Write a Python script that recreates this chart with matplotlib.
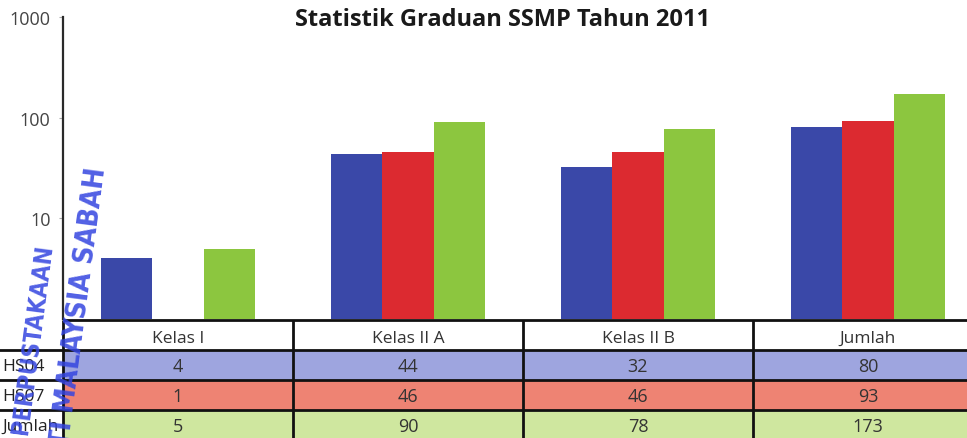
import matplotlib
matplotlib.use("Agg")
import matplotlib.pyplot as plt
from matplotlib.patches import Rectangle
import numpy as np

# ---- data ----
categories = ["Kelas I", "Kelas II A", "Kelas II B", "Jumlah"]
series_names = ["HS04", "HS07", "Jumlah"]
hs04 = [4, 44, 32, 80]
hs07 = [1, 46, 46, 93]
jumlah = [5, 90, 78, 173]
y_ticks = [10, 100, 1000]
y_tick_labels = ["10", "100", "1000"]
title = "Statistik Graduan SSMP Tahun 2011"

bar_colors = ["#3a48a8", "#dc2a30", "#8cc63f"]
row_colors = ["#9ea5df", "#ee8373", "#cfe79f"]
text_col = "#333333"
FONT = "Open Sans"

W, H = 967, 439
fig = plt.figure(figsize=(W / 100, H / 100), dpi=100)
fig.patch.set_facecolor("white")

def px(x0, y0, w, h):
    return [x0 / W, 1 - (y0 + h) / H, w / W, h / H]

# main bar axes
ax = fig.add_axes(px(63, 18, 920, 302))
ax.set_yscale("log")
ax.set_ylim(1, 1000)
ax.set_xlim(-0.5, len(categories) - 0.5)
x = np.arange(len(categories))
bw = 0.224
offs = [-bw, 0, bw]
for vals, c, o in zip([hs04, hs07, jumlah], bar_colors, offs):
    ax.bar(x + o, vals, width=bw, color=c, bottom=0, zorder=2)

for s in ["top", "right", "bottom"]:
    ax.spines[s].set_visible(False)
ax.spines["left"].set_color("#2a2a2a")
ax.spines["left"].set_linewidth(1.6)
ax.set_xticks([])
ax.set_yticks(y_ticks)
ax.set_yticklabels(y_tick_labels)
ax.yaxis.set_minor_locator(matplotlib.ticker.NullLocator())
ax.tick_params(axis="y", length=3, width=0.8, color="#aaaaaa", pad=6,
               labelsize=13, labelcolor="#444444")
for lab in ax.get_yticklabels():
    lab.set_fontfamily(FONT)
ax.patch.set_alpha(0)

# title
fig.text(503 / W, 1 - 20 / H, title, ha="center", va="center",
         fontsize=17, fontweight="bold", family=FONT, color="#1a1a1a")

# table axes
tax = fig.add_axes(px(63, 321, 920, 120))
tax.set_xlim(-0.5, len(categories) - 0.5)
tax.set_ylim(4, 0)
tax.axis("off")
rows = [hs04, hs07, jumlah]
lw = 2.0
for r, (vals, rc) in enumerate(zip(rows, row_colors), start=1):
    for i, v in enumerate(vals):
        tax.add_patch(Rectangle((i - 0.5, r), 1, 1, facecolor=rc,
                                edgecolor="none", zorder=1))
        tax.text(i, r + 0.55, str(v), ha="center", va="center", fontsize=13,
                 family=FONT, color=text_col, zorder=3)
    tax.text(-0.5 - 61 / 230, r + 0.52, series_names[r - 1], ha="left",
             va="center", fontsize=12.5, family=FONT, color="#222222",
             clip_on=False, zorder=3)
for i, cat in enumerate(categories):
    tax.text(i, 0.6, cat, ha="center", va="center", fontsize=12.5,
             family=FONT, color=text_col, zorder=3)
# grid lines
tax.plot([-0.5, len(categories) - 0.5], [0, 0], color="#111111", lw=lw,
         clip_on=False, zorder=4, solid_capstyle="butt")
for r in [1, 2, 3]:
    tax.plot([-0.5 - 70 / 230, len(categories) - 0.5], [r, r], color="#111111",
             lw=lw, clip_on=False, zorder=4, solid_capstyle="butt")
for i in range(len(categories)):
    tax.plot([i - 0.5, i - 0.5], [0, 4], color="#111111", lw=lw,
             clip_on=False, zorder=4, solid_capstyle="butt")

# library stamp
stamp_col = "#3344e0"
stamp_font = dict(fontweight="bold", fontstretch="condensed",
                  family=["DejaVu Sans"], color=stamp_col, alpha=0.85,
                  rotation=82.5, rotation_mode="anchor", ha="right",
                  va="center", zorder=10)
fig.text(97 / W, 1 - 168 / H, "UNIVERSITI MALAYSIA SABAH", fontsize=20,
         **stamp_font)
fig.text(45 / W, 1 - 244 / H, "PERPUSTAKAAN", fontsize=17, **stamp_font)

fig.savefig("out.png", dpi=100, facecolor="white")
